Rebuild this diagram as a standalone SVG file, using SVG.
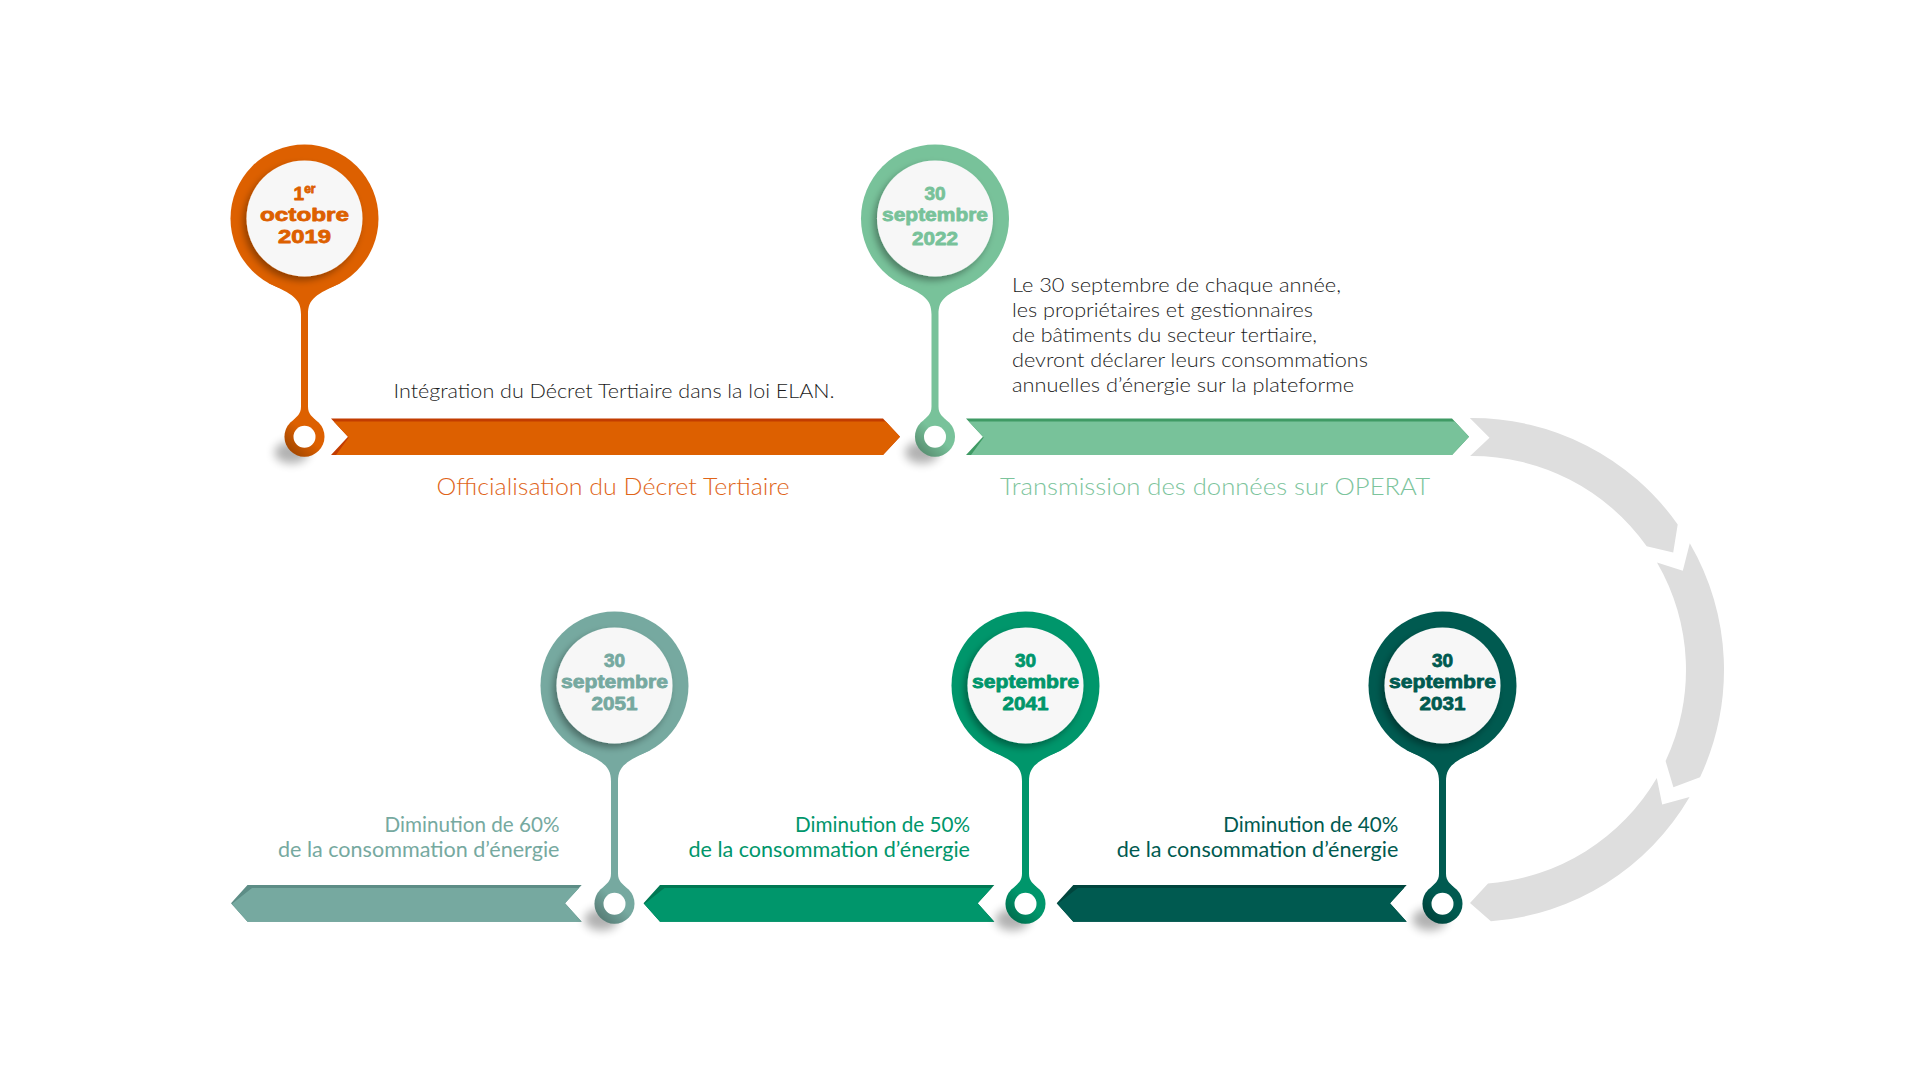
<svg xmlns="http://www.w3.org/2000/svg" xmlns:xlink="http://www.w3.org/1999/xlink" width="1920" height="1080" viewBox="0 0 1920 1080">
<style>
.date{font-family:"Liberation Sans","Arial",sans-serif;font-weight:700;font-size:19px;text-anchor:middle;stroke-width:0.8;stroke-linejoin:round;}
.body{font-family:"Lato","Liberation Sans",sans-serif;font-weight:300;font-size:20px;fill:#1c1c1c;}
.label{font-family:"Lato","Liberation Sans",sans-serif;font-weight:300;font-size:23px;text-anchor:middle;}
.dim{font-family:"Lato","Liberation Sans",sans-serif;font-weight:400;font-size:20.5px;text-anchor:end;}
.arc{fill:#dedede;}
.disc{fill:#f7f7f7;}
.hole{fill:#ffffff;}
</style>
<defs>
<filter id="discShadow" x="-30%" y="-30%" width="160%" height="160%">
<feDropShadow dx="-3" dy="4" stdDeviation="3.5" flood-color="#000" flood-opacity="0.35"/>
</filter>
<filter id="blur" x="-100%" y="-100%" width="300%" height="300%">
<feGaussianBlur stdDeviation="5"/>
</filter>
<linearGradient id="ringShade" x1="1" y1="0" x2="0" y2="1">
<stop offset="0.45" stop-color="#000" stop-opacity="0"/>
<stop offset="1" stop-color="#000" stop-opacity="0.35"/>
</linearGradient>
<g id="pin">
<circle r="74"/>
<path d="M-36,64.6 C-12,76 -3.5,80 -3.5,96 L-3.5,188 C-3.5,196 -8,198 -11,201.5 L11,201.5 C8,198 3.5,196 3.5,188 L3.5,96 C3.5,80 12,76 36,64.6 Z"/>
<circle cy="218.2" r="20"/>
</g>
<g id="pinDetails">
<circle cy="218.2" r="20" fill="url(#ringShade)"/>
<circle class="hole" cy="218.2" r="11"/>
<circle class="disc" r="58" filter="url(#discShadow)"/>
</g>
<ellipse id="pinShadow" cx="-13" cy="234" rx="17" ry="11" fill="#000" opacity="0.3" filter="url(#blur)"/>
</defs>

<rect width="1920" height="1080" fill="#ffffff"/>

<g id="connectors">
<polygon points="331,418.5 883,418.5 900,436.7 883,455 331,455 348,436.7" fill="#c23c00"/>
<polygon points="333.8,421.5 885.8,421.5 900,436.7 883,455 336,455 348.7,437.5" fill="#dd6000"/>
<polygon points="966,418.5 1452,418.5 1469,436.7 1452,455 966,455 983,436.7" fill="#3f9a64"/>
<polygon points="968.8,421.5 1454.8,421.5 1469,436.7 1452,455 971,455 983.7,437.5" fill="#78c29a"/>
<path class="arc" d="M1469.8,418 A252,252 0 0 1 1677.7,524.4 L1673.2,552.4 L1646.7,546.3 A214,214 0 0 0 1470.1,456 L1489.5,437.7 Z"/>
<path class="arc" d="M1689.8,543.2 A252,252 0 0 1 1700,777.3 L1673.4,787.2 L1665.6,761.1 A214,214 0 0 0 1657,562.4 L1682.8,570.8 Z"/>
<path class="arc" d="M1689.6,797.1 A252,252 0 0 1 1490.9,921.3 L1470,903 L1488,883.4 A214,214 0 0 0 1656.8,778 L1662.2,804.6 Z"/>
<polygon points="1073.3,885 1406.7,885 1390,903.3 1406.7,921.7 1073.3,921.7 1056.7,903.3" fill="#00453d"/>
<polygon points="1077.8,888 1403.9,888 1390,903.3 1406.7,921.7 1073.3,921.7 1057.5,904" fill="#005a50"/>
<polygon points="660,885 994.3,885 977.7,903.3 994.3,921.7 660,921.7 643.5,903.3" fill="#007853"/>
<polygon points="664.5,888 991.5,888 977.7,903.3 994.3,921.7 660,921.7 644.3,904" fill="#00966b"/>
<polygon points="247.5,885 581.7,885 565,903.3 581.7,921.7 247.5,921.7 231,903.3" fill="#5d8d86"/>
<polygon points="252,888 578.9,888 565,903.3 581.7,921.7 247.5,921.7 231.8,904" fill="#76a9a0"/>
</g>

<g id="node-2019" transform="translate(304.5,218.5)">
<use href="#pinShadow"/>
<use href="#pin" fill="#dd6000"/>
<use href="#pinDetails"/>
<text class="date" fill="#dd6000" stroke="#dd6000"><tspan x="0" y="-19">1</tspan><tspan font-size="12" dy="-7">er</tspan><tspan x="0" y="2.5" textLength="89" lengthAdjust="spacingAndGlyphs">octobre</tspan><tspan x="0" y="24.5" textLength="53" lengthAdjust="spacingAndGlyphs">2019</tspan></text>
</g>

<g id="node-2022" transform="translate(935,218.5)">
<use href="#pinShadow"/>
<use href="#pin" fill="#78c29a"/>
<use href="#pinDetails"/>
<text class="date" fill="#78c29a" stroke="#78c29a"><tspan x="0" y="-19">30</tspan><tspan x="0" y="2.5" textLength="106" lengthAdjust="spacingAndGlyphs">septembre</tspan><tspan x="0" y="26.5" textLength="46" lengthAdjust="spacingAndGlyphs">2022</tspan></text>
</g>

<g id="node-2051" transform="translate(614.5,685.5)">
<use href="#pinShadow"/>
<use href="#pin" fill="#76a9a0"/>
<use href="#pinDetails"/>
<text class="date" fill="#76a9a0" stroke="#76a9a0"><tspan x="0" y="-19">30</tspan><tspan x="0" y="2.5" textLength="107" lengthAdjust="spacingAndGlyphs">septembre</tspan><tspan x="0" y="24.5" textLength="46" lengthAdjust="spacingAndGlyphs">2051</tspan></text>
</g>

<g id="node-2041" transform="translate(1025.5,685.5)">
<use href="#pinShadow"/>
<use href="#pin" fill="#00966b"/>
<use href="#pinDetails"/>
<text class="date" fill="#00966b" stroke="#00966b"><tspan x="0" y="-19">30</tspan><tspan x="0" y="2.5" textLength="107" lengthAdjust="spacingAndGlyphs">septembre</tspan><tspan x="0" y="24.5" textLength="46" lengthAdjust="spacingAndGlyphs">2041</tspan></text>
</g>

<g id="node-2031" transform="translate(1442.5,685.5)">
<use href="#pinShadow"/>
<use href="#pin" fill="#005a50"/>
<use href="#pinDetails"/>
<text class="date" fill="#005a50" stroke="#005a50"><tspan x="0" y="-19">30</tspan><tspan x="0" y="2.5" textLength="107" lengthAdjust="spacingAndGlyphs">septembre</tspan><tspan x="0" y="24.5" textLength="46" lengthAdjust="spacingAndGlyphs">2031</tspan></text>
</g>

<g id="labels">
<text class="body" x="614" y="398.3" text-anchor="middle" textLength="441" lengthAdjust="spacingAndGlyphs">Intégration du Décret Tertiaire dans la loi ELAN.</text>
<text class="label" x="613" y="495" fill="#e06519" textLength="353" lengthAdjust="spacingAndGlyphs">Officialisation du Décret Tertiaire</text>
<text class="body"><tspan x="1012" y="292.3" textLength="329" lengthAdjust="spacingAndGlyphs">Le 30 septembre de chaque année,</tspan><tspan x="1012" y="317.3" textLength="301" lengthAdjust="spacingAndGlyphs">les propriétaires et gestionnaires</tspan><tspan x="1012" y="342.2" textLength="305" lengthAdjust="spacingAndGlyphs">de bâtiments du secteur tertiaire,</tspan><tspan x="1012" y="367.2" textLength="356" lengthAdjust="spacingAndGlyphs">devront déclarer leurs consommations</tspan><tspan x="1012" y="392" textLength="342" lengthAdjust="spacingAndGlyphs">annuelles d’énergie sur la plateforme</tspan></text>
<text class="label" x="1215" y="495" fill="#7cc49c" textLength="430" lengthAdjust="spacingAndGlyphs">Transmission des données sur OPERAT</text>
<text class="dim" fill="#76a9a0"><tspan x="559.5" y="831.7" textLength="175" lengthAdjust="spacingAndGlyphs">Diminution de 60%</tspan><tspan x="559.5" y="856.7" textLength="281.6" lengthAdjust="spacingAndGlyphs">de la consommation d’énergie</tspan></text>
<text class="dim" fill="#00966b"><tspan x="970" y="831.7" textLength="175" lengthAdjust="spacingAndGlyphs">Diminution de 50%</tspan><tspan x="970" y="856.7" textLength="281.6" lengthAdjust="spacingAndGlyphs">de la consommation d’énergie</tspan></text>
<text class="dim" fill="#005a50"><tspan x="1398.3" y="831.7" textLength="175" lengthAdjust="spacingAndGlyphs">Diminution de 40%</tspan><tspan x="1398.3" y="856.7" textLength="281.6" lengthAdjust="spacingAndGlyphs">de la consommation d’énergie</tspan></text>
</g>
</svg>
